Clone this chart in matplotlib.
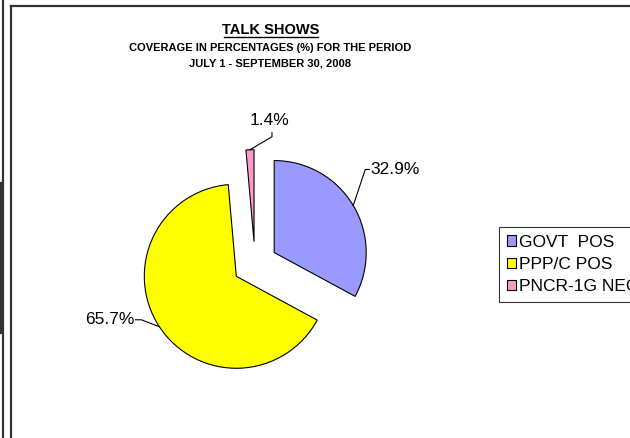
import numpy as np
import matplotlib
matplotlib.use("Agg")
import matplotlib.pyplot as plt
from matplotlib.lines import Line2D
from matplotlib.patches import Patch

plt.rcParams['font.family'] = ['Liberation Sans', 'DejaVu Sans']

categories = ["GOVT  POS", "PPP/C POS", "PNCR-1G NEG"]
shares = [32.9, 65.7, 1.4]
colors = ["#9999FF", "#FFFF00", "#FF99CC"]

W, H = 630, 438
DPI = 100
fig = plt.figure(figsize=(W / DPI, H / DPI), dpi=DPI)

# pie centre and radius in pixels
cx, cy, R = 255.0, 264.0, 92.0
ax = fig.add_axes([0, 0, 1, 1])
ax.axis("off")

wedges, _ = ax.pie(shares, colors=colors, startangle=90, counterclock=False,
                   explode=[0.243] * len(shares), radius=1.0,
                   wedgeprops=dict(edgecolor="black", linewidth=0.8))
ax.set_xlim(-cx / R, (W - cx) / R)
ax.set_ylim(-(H - cy) / R, cy / R)
ax.set_aspect("equal")

# leader-line layouts: elbow offset, tail offset (pixels), text alignment
layouts = [
    ((12, 36), (4, 0), "left", "center"),
    ((-18, 7), (-6, 0), "right", "center"),
    ((22, 13), (0, 4), "center", "bottom"),
]
for w, v, (elb, tail, ha, va) in zip(wedges, shares, layouts):
    mid = np.deg2rad((w.theta1 + w.theta2) / 2)
    x0 = w.center[0] + w.r * np.cos(mid)
    y0 = w.center[1] + w.r * np.sin(mid)
    x1, y1 = x0 + elb[0] / R, y0 + elb[1] / R
    x2, y2 = x1 + tail[0] / R, y1 + tail[1] / R
    ax.plot([x0, x1, x2], [y0, y1, y2], color="black", lw=0.8)
    gap = 1 / R
    tx = x2 + (gap if ha == "left" else -gap if ha == "right" else -2 / R)
    ty = y2 + (5 / R if va == "bottom" else 0)
    ax.text(tx, ty, f"{v}%", ha=ha, va=va, fontsize=12.5, color="black")

# titles
fig.text(271 / W, 1 - 30 / H, "TALK SHOWS", ha="center", va="center",
         fontsize=10.5, fontweight="bold")
fig.add_artist(Line2D([224 / W, 318 / W], [1 - 37 / H, 1 - 37 / H],
                      color="black", lw=1.0))
fig.text(270 / W, 1 - 48 / H, "COVERAGE IN PERCENTAGES (%) FOR THE PERIOD",
         ha="center", va="center", fontsize=8.0, fontweight="bold")
fig.text(270 / W, 1 - 64 / H, "JULY 1 - SEPTEMBER 30, 2008",
         ha="center", va="center", fontsize=8.0, fontweight="bold")

# legend (runs past the right edge of the chart area)
handles = [Patch(facecolor=c, edgecolor="black", linewidth=0.8) for c in colors]
leg = fig.legend(handles, categories, loc="upper left",
                 bbox_to_anchor=(499 / W, 1 - 227 / H), frameon=True,
                 fontsize=12.5, handlelength=0.55, handleheight=0.55,
                 handletextpad=0.15, labelspacing=0.42, borderpad=0.45,
                 borderaxespad=0, fancybox=False)
leg.get_frame().set_edgecolor("black")
leg.get_frame().set_linewidth(0.8)

# outer frame lines
frame_kw = dict(color="#333333", lw=1.6)
fig.add_artist(Line2D([3 / W, 3 / W], [0, 1], **frame_kw))
fig.add_artist(Line2D([11 / W, 11 / W], [0, 1 - 6 / H], **frame_kw))
fig.add_artist(Line2D([11 / W, 1], [1 - 6 / H, 1 - 6 / H], **frame_kw))
fig.add_artist(Line2D([0.5 / W, 0.5 / W], [1 - 183 / H, 1 - 333 / H], **frame_kw))

fig.savefig("out.png", dpi=DPI)
